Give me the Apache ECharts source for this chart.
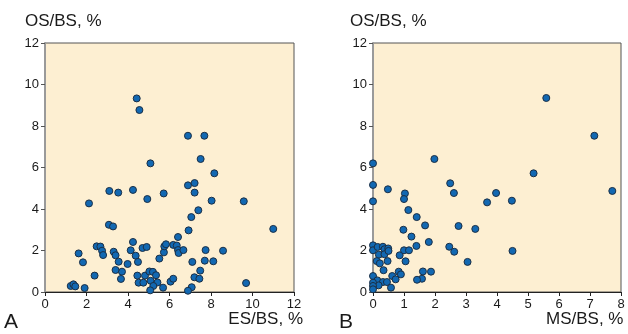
<!DOCTYPE html>
<html>
<head>
<meta charset="utf-8">
<script src="https://cdn.jsdelivr.net/npm/echarts@6/dist/echarts.min.js"></script>
<style>
html, body { margin: 0; padding: 0; background: #fff; }
#chart { width: 628px; height: 334px; }
</style>
</head>
<body>
<div id="chart"></div>
<script>
// panel A: ES/BS vs OS/BS
var esX = [4.42, 4.55, 5.08, 6.89, 7.68, 7.5, 8.16, 6.89, 7.21, 3.1, 3.53, 4.24, 5.72, 4.93, 2.12,
  3.08, 3.28, 4.24, 2.49, 2.67, 2.75, 2.8, 1.62, 3.31, 3.4, 3.55, 4.13, 4.37, 4.7, 4.9,
  4.48, 3.98, 1.83, 3.71, 3.4, 2.39, 3.66, 5.51, 5.73, 5.75, 5.83, 4.45, 4.82, 5.03, 5.2,
  5.35, 4.51, 4.74, 5.09, 5.42, 5.22, 5.07, 5.69, 6.05, 1.24, 1.37, 1.46, 1.91, 7.21, 8.03,
  9.58, 7.39, 7.05, 11.0, 6.92, 6.41, 6.18, 6.35, 6.41, 6.44, 6.67, 7.74, 8.58, 7.1, 7.7,
  8.11, 7.48, 7.2, 7.44, 6.18, 9.69, 7.07, 6.89];
var esY = [9.33, 8.77, 6.2, 7.53, 7.53, 6.41, 5.72, 5.14, 5.25, 4.87, 4.79, 4.92, 4.75, 4.48, 4.27,
  3.24, 3.16, 2.41, 2.2, 2.19, 1.99, 1.78, 1.86, 1.94, 1.77, 1.46, 2.01, 1.75, 2.12, 2.17,
  1.45, 1.35, 1.43, 0.98, 1.06, 0.79, 0.63, 1.61, 1.91, 2.2, 2.3, 0.79, 0.79, 0.99, 0.97,
  0.81, 0.45, 0.45, 0.54, 0.46, 0.29, 0.08, 0.21, 0.5, 0.29, 0.37, 0.27, 0.19, 4.79, 4.4,
  4.37, 3.94, 3.61, 3.04, 2.97, 2.65, 2.27, 2.24, 2.02, 1.88, 2.02, 2.02, 1.99, 1.45, 1.51,
  1.48, 1.03, 0.71, 0.64, 0.64, 0.43, 0.23, 0.06];

// panel B: MS/BS vs OS/BS
var msX = [5.59, 7.14, 5.18, 7.72, 3.97, 3.68, 4.48, 3.3, 2.76, 4.5, 3.05, 0, 1.98, 2.49, 2.61,
  0, 0.48, 1.03, 1.0, 0, 1.14, 1.41, 1.68, 0.98, 1.24, 1.8, 2.46, 2.62, 1.61, 1.87,
  1.58, 1.42, 0, 0, 0.15, 0.32, 0.37, 0.49, 0.19, 0.37, 0.47, 0.12, 0.22, 0.86, 1.0,
  1.16, 1.4, 1.05, 0.34, 0, 0.62, 0.83, 0.9, 0.73, 0.14, 0.32, 0.45, 0.18, 0, 0,
  0, 0.58, 0.5];
var msY = [9.35, 7.53, 5.72, 4.87, 4.77, 4.32, 4.4, 3.04, 3.18, 1.98, 1.45, 6.2, 6.41, 5.24, 4.77,
  5.16, 4.95, 4.75, 4.48, 4.37, 3.95, 3.61, 3.21, 3.0, 2.67, 2.41, 2.18, 1.94, 0.99, 0.98,
  0.64, 0.59, 2.25, 2.01, 2.17, 2.18, 2.06, 2.1, 1.8, 1.82, 1.49, 1.49, 1.38, 1.77, 2.01,
  2.01, 2.22, 1.48, 1.05, 0.77, 0.77, 0.98, 0.85, 0.61, 0.56, 0.48, 0.48, 0.32, 0.45, 0.29,
  0.13, 0.21, 1.98];

function pairs(xs, ys) {
  var out = [];
  for (var i = 0; i < xs.length; i++) out.push([xs[i], ys[i]]);
  return out;
}

var font = 'Liberation Sans, Arial, sans-serif';
var labelStyle = { color: '#1a1a1a', fontSize: 13, fontFamily: font };

function xAxisOf(idx, max) {
  return {
    gridIndex: idx, type: 'value', min: 0, max: max, interval: idx == 0 ? 2 : 1,
    axisLine: { show: true, onZero: false, lineStyle: { color: '#222', width: 1 } },
    axisTick: { show: true, length: 4, lineStyle: { color: '#222' } },
    axisLabel: Object.assign({ margin: 6 }, labelStyle),
    splitLine: { show: false }
  };
}
function yAxisOf(idx) {
  return {
    gridIndex: idx, type: 'value', min: 0, max: 12, interval: 2,
    axisLine: { show: true, onZero: false, lineStyle: { color: '#9a9a9a', width: 2 } },
    axisTick: { show: true, length: 4, lineStyle: { color: '#555' } },
    axisLabel: Object.assign({ margin: 6 }, labelStyle),
    splitLine: { show: false }
  };
}

var dotStyle = { color: '#1268b2', borderColor: '#1b2f45', borderWidth: 1, opacity: 1 };

var chart = echarts.init(document.getElementById('chart'));
var option = {
  animation: false,
  grid: [
    { left: 45, top: 43, width: 249, height: 249, show: true, backgroundColor: '#fdefd2', borderColor: '#555', borderWidth: 1 },
    { left: 373, top: 43, width: 248, height: 249, show: true, backgroundColor: '#fdefd2', borderColor: '#555', borderWidth: 1 }
  ],
  xAxis: [xAxisOf(0, 12), xAxisOf(1, 8)],
  yAxis: [yAxisOf(0), yAxisOf(1)],
  series: [
    { type: 'scatter', xAxisIndex: 0, yAxisIndex: 0, symbolSize: 7, itemStyle: dotStyle, data: pairs(esX, esY) },
    { type: 'scatter', xAxisIndex: 1, yAxisIndex: 1, symbolSize: 7, itemStyle: dotStyle, data: pairs(msX, msY) }
  ],
  graphic: [
    { type: 'text', left: 25, top: 13, style: { text: 'OS/BS, %', font: '17px ' + font, fill: '#1a1a1a' } },
    { type: 'text', left: 350, top: 13, style: { text: 'OS/BS, %', font: '17px ' + font, fill: '#1a1a1a' } },
    { type: 'text', right: 325, top: 311, style: { text: 'ES/BS, %', font: '17px ' + font, fill: '#1a1a1a' } },
    { type: 'text', left: 546, top: 311, style: { text: 'MS/BS, %', font: '17px ' + font, fill: '#1a1a1a' } },
    { type: 'text', left: 4, top: 312, style: { text: 'A', font: '21px ' + font, fill: '#1a1a1a' } },
    { type: 'text', left: 339, top: 312, style: { text: 'B', font: '21px ' + font, fill: '#1a1a1a' } }
  ]
};
chart.setOption(option);
</script>
</body>
</html>
